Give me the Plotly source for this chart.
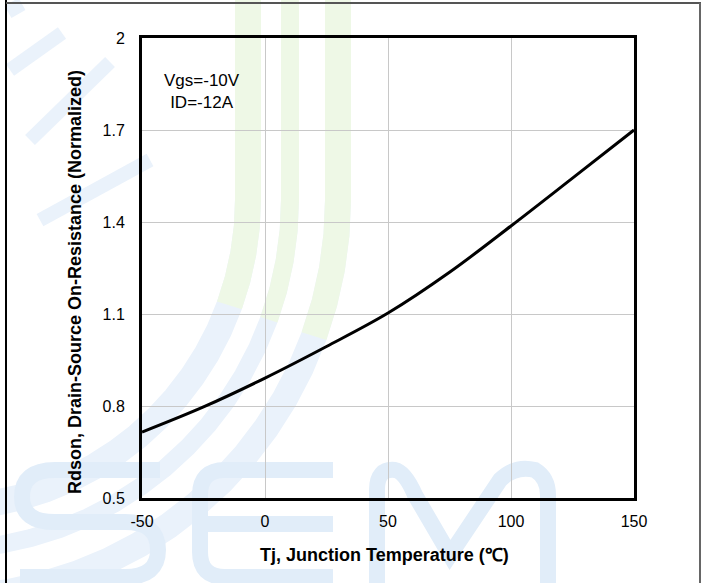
import math
import plotly.graph_objects as go

# ---- data ----
temps = [-50, -25, 0, 25, 50, 75, 100, 125, 150]
rdson = [0.715, 0.797, 0.891, 0.994, 1.103, 1.236, 1.387, 1.543, 1.700]
x_ticks = [-50, 0, 50, 100, 150]
x_tick_labels = ["-50", "0", "50", "100", "150"]
y_ticks = [0.5, 0.8, 1.1, 1.4, 1.7, 2.0]
y_tick_labels = ["0.5", "0.8", "1.1", "1.4", "1.7", "2"]
x_title = "<b>Tj, Junction Temperature (℃)</b>"
y_title = "<b>Rdson, Drain-Source On-Resistance (Normalized)</b>"
note = "Vgs=-10V<br>ID=-12A"

W, H = 704, 583
L, R, T, B = 142, 634, 38, 498


def px(x):
    return (x - L) / (R - L)


def py(y):
    return (B - y) / (B - T)


def path(cmds):
    out = []
    for c in cmds:
        if isinstance(c, str):
            out.append(c)
        else:
            out.append(f"{px(c[0]):.4f},{py(c[1]):.4f}")
    return " ".join(out)


shapes = []
BLUE = "#e1edf9"
BLUE2 = "#eaf2fb"
GREEN = "#eef8e6"

# watermark bands (vertical at top, bending to lower-left)
cx, cy = -60, 200
for x0, w in [(248, 26), (290, 18), (338, 26)]:
    r = x0 - cx
    cmds = ["M", (x0, 0)]
    for k in range(0, 19):
        a = math.radians(k * 5)
        cmds += ["L", (cx + r * math.cos(a), cy + r * math.sin(a))]
    shapes.append(dict(type="path", xref="paper", yref="paper", layer="below",
                       path=path(cmds), line=dict(color=BLUE2, width=w)))
    gcmds = ["M", (x0, 0), "L", (x0, cy)]
    for k in range(0, 5):
        a = math.radians(k * 5)
        gcmds += ["L", (cx + r * math.cos(a), cy + r * math.sin(a))]
    shapes.append(dict(type="path", xref="paper", yref="paper", layer="below",
                       path=path(gcmds), line=dict(color=GREEN, width=w)))
# faint blue bands top-left
for (a, b, c, d) in [(8, 12, 22, 4), (10, 70, 62, 33), (30, 140, 110, 62), (40, 220, 150, 160)]:
    shapes.append(dict(type="path", xref="paper", yref="paper", layer="below",
                       path=path(["M", (a, b), "L", (c, d)]),
                       line=dict(color=BLUE2, width=14)))

# "SEMI" watermark letters as strokes
S = ["M", (160, 470), "L", (55, 470), "Q", (22, 470), (22, 497), "Q", (22, 522), (55, 522),
     "L", (125, 522), "Q", (158, 522), (158, 550), "Q", (158, 577), (125, 577), "L", (20, 577)]
E1 = ["M", (333, 470), "L", (225, 470), "Q", (200, 470), (200, 495), "L", (200, 552),
      "Q", (200, 577), (225, 577), "L", (333, 577)]
E2 = ["M", (200, 524), "L", (333, 524)]
M = ["M", (377, 583), "L", (377, 490), "Q", (377, 468), (395, 470), "Q", (405, 472), (415, 495),
     "L", (450, 555), "L", (500, 480), "Q", (515, 465), (535, 470), "Q", (548, 478), (548, 495),
     "L", (548, 583)]
for p in [S, E1, E2, M]:
    shapes.append(dict(type="path", xref="paper", yref="paper", layer="below",
                       path=path(p), line=dict(color=BLUE, width=16)))

# outer frame
shapes.append(dict(type="line", xref="paper", yref="paper", x0=px(6), x1=px(6), y0=py(0), y1=py(583),
                   line=dict(color="black", width=2)))
shapes.append(dict(type="line", xref="paper", yref="paper", x0=px(6), x1=px(701), y0=py(3), y1=py(3),
                   line=dict(color="#555555", width=2)))
shapes.append(dict(type="line", xref="paper", yref="paper", x0=px(700), x1=px(700), y0=py(3), y1=py(583),
                   line=dict(color="#666666", width=2)))

fig = go.Figure()
fig.add_trace(go.Scatter(x=temps, y=rdson, mode="lines",
                         line=dict(color="black", width=3, shape="spline", smoothing=1.0),
                         showlegend=False))

font_family = "Liberation Sans, Arial, sans-serif"

fig.update_layout(
    width=W, height=H,
    margin=dict(l=L, r=W - R, t=T, b=H - B),
    paper_bgcolor="white",
    plot_bgcolor="rgba(0,0,0,0)",
    font=dict(family=font_family, size=16, color="black"),
    shapes=shapes,
    xaxis=dict(range=[-50, 150], tickmode="array", tickvals=x_ticks, ticktext=x_tick_labels,
               showgrid=True, gridcolor="#c8c8c8", gridwidth=1, zeroline=False,
               showline=True, linecolor="black", linewidth=3, mirror=True,
               ticks="", ticklabelstandoff=7,
               tickfont=dict(size=16, color="black"),
               automargin=False),
    yaxis=dict(range=[0.5, 2.0], tickmode="array", tickvals=y_ticks, ticktext=y_tick_labels,
               showgrid=True, gridcolor="#c8c8c8", gridwidth=1, zeroline=False,
               showline=True, linecolor="black", linewidth=3, mirror=True,
               ticks="", ticklabelstandoff=11,
               tickfont=dict(size=16, color="black"),
               automargin=False),
    annotations=[
        dict(xref="paper", yref="paper", x=px(202), y=py(91),
             xanchor="center", yanchor="middle",
             text=note, showarrow=False, align="center",
             font=dict(size=17, color="black")),
        dict(xref="paper", yref="paper", x=px(384), y=py(555),
             xanchor="center", yanchor="middle",
             text=x_title, showarrow=False, font=dict(size=18, color="black")),
        dict(xref="paper", yref="paper", x=px(75), y=py(282),
             xanchor="center", yanchor="middle", textangle=-90,
             text=y_title, showarrow=False, font=dict(size=18, color="black")),
    ],
)

fig.write_html("out.html")
